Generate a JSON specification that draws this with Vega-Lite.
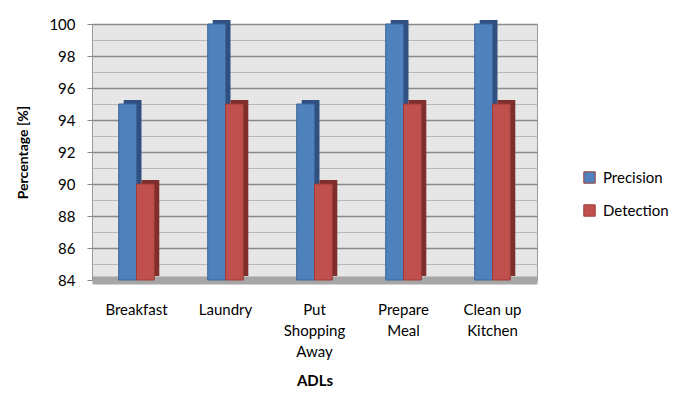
{
  "$schema": "https://vega.github.io/schema/vega-lite/v6.json",
  "autosize": "none",
  "width": 445,
  "height": 256,
  "padding": {"left": 92, "top": 24, "right": 136, "bottom": 116},
  "background": "white",
  "config": {
    "font": "Lato",
    "view": {"fill": "#E6E6E6", "stroke": "#9A9A9A", "strokeWidth": 1}
  },
  "data": {
    "values": [
      {"adl": "Breakfast", "measure": "Precision", "value": 95},
      {"adl": "Breakfast", "measure": "Detection", "value": 90},
      {"adl": "Laundry", "measure": "Precision", "value": 100},
      {"adl": "Laundry", "measure": "Detection", "value": 95},
      {"adl": "Put Shopping Away", "measure": "Precision", "value": 95},
      {"adl": "Put Shopping Away", "measure": "Detection", "value": 90},
      {"adl": "Prepare Meal", "measure": "Precision", "value": 100},
      {"adl": "Prepare Meal", "measure": "Detection", "value": 95},
      {"adl": "Clean up Kitchen", "measure": "Precision", "value": 100},
      {"adl": "Clean up Kitchen", "measure": "Detection", "value": 95}
    ]
  },
  "encoding": {
    "x": {
      "field": "adl", "type": "nominal", "sort": null,
      "scale": {"paddingInner": 0.6, "paddingOuter": 0.3},
      "axis": {
        "title": "ADLs", "titleFont": "Lato", "titleFontSize": 15, "titleFontWeight": "bold",
        "titleColor": "#000", "titlePadding": 14,
        "labelAngle": 0, "labelFontSize": 15, "labelColor": "#000", "labelFont": "Lato",
        "labelPadding": 22, "labelLineHeight": 21, "labelBaseline": "top",
        "labelExpr": "datum.label == 'Put Shopping Away' ? ['Put','Shopping','Away'] : datum.label == 'Prepare Meal' ? ['Prepare','Meal'] : datum.label == 'Clean up Kitchen' ? ['Clean up','Kitchen'] : datum.label",
        "ticks": false, "domain": true, "domainColor": "#A6A6A6", "domainWidth": 8
      }
    },
    "y": {
      "field": "value", "type": "quantitative",
      "scale": {"domain": [84, 100], "nice": false, "zero": false},
      "axis": {
        "title": "Percentage [%]", "titleFont": "Lato", "titleFontSize": 14, "titleFontWeight": "bold",
        "titleColor": "#000", "titlePadding": 18,
        "values": [84, 84.5, 85, 85.5, 86, 86.5, 87, 87.5, 88, 88.5, 89, 89.5, 90, 90.5, 91, 91.5, 92, 92.5, 93, 93.5, 94, 94.5, 95, 95.5, 96, 96.5, 97, 97.5, 98, 98.5, 99, 99.5, 100],
        "format": "d",
        "labelExpr": "datum.value % 2 === 0 ? datum.label : ''",
        "labelFontSize": 15, "labelColor": "#000", "labelFont": "Lato", "labelPadding": 12,
        "ticks": true, "tickSize": 5,
        "tickColor": {"condition": {"test": "datum.value % 2 === 0", "value": "#888"}, "value": "transparent"},
        "domainColor": "#999", "domainWidth": 1,
        "grid": true,
        "gridColor": {"condition": {"test": "datum.value % 2 === 0", "value": "#8A8A8A"}, "value": "#B8B8B8"},
        "gridWidth": {"condition": {"test": "datum.value % 2 === 0", "value": 1.5}, "value": 1},
        "gridOpacity": 1
      }
    },
    "y2": {"datum": 84}
  },
  "layer": [
    {
      "mark": {"type": "bar", "yOffset": -4, "y2Offset": -4},
      "encoding": {
        "xOffset": {"field": "measure", "type": "nominal", "sort": ["Precision", "Detection"], "scale": {"range": [5, 40.6]}},
        "color": {"condition": {"test": "datum.measure === 'Precision'", "value": "#2F5081"}, "value": "#7F2E2C"}
      }
    },
    {
      "mark": {"type": "bar", "strokeWidth": 1},
      "encoding": {
        "xOffset": {"field": "measure", "type": "nominal", "sort": ["Precision", "Detection"]},
        "color": {
          "field": "measure", "type": "nominal",
          "scale": {"domain": ["Precision", "Detection"], "range": ["#4F81BD", "#C0504D"]},
          "legend": {
            "title": null, "orient": "none", "legendX": 490, "legendY": 146,
            "symbolType": "square", "symbolSize": 130, "symbolStrokeWidth": 1,
            "labelFontSize": 15, "labelFont": "Lato", "labelColor": "#000",
            "rowPadding": 16, "labelOffset": 6
          }
        },
        "stroke": {"condition": {"test": "datum.measure === 'Precision'", "value": "#3A669A"}, "value": "#9B3C39"}
      }
    }
  ],
  "resolve": {"scale": {"xOffset": "independent"}}
}
